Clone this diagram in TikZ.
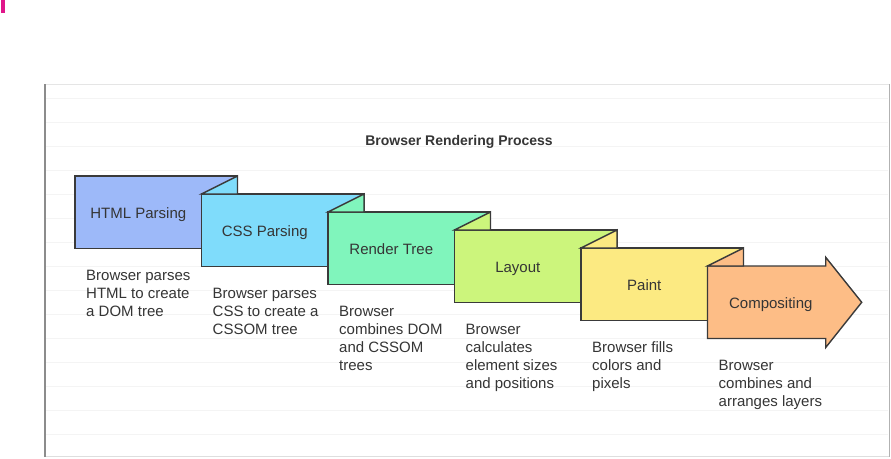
\documentclass[tikz,border=0pt]{standalone}
\usepackage{fontspec}
\setmainfont{Liberation Sans}
\definecolor{cA}{HTML}{9DB9F9}
\definecolor{cB}{HTML}{7FDCFB}
\definecolor{cC}{HTML}{80F5BC}
\definecolor{cD}{HTML}{CCF57C}
\definecolor{cE}{HTML}{FCEA82}
\definecolor{cF}{HTML}{FDBD86}
\definecolor{edgegray}{HTML}{3A3A3A}
\definecolor{txt}{HTML}{353535}
\definecolor{rulegray}{HTML}{F4F4F4}
\definecolor{pinkmark}{HTML}{E0168A}
\begin{document}
\begin{tikzpicture}[x=1pt,y=-1pt,
  stage/.style={draw=edgegray, line width=1.4pt, line join=miter},
  rule/.style={draw=rulegray, line width=1pt},
  lbl/.style={font=\fontsize{15}{18}\selectfont, text=txt, inner sep=0, anchor=base},
  desc/.style={font=\fontsize{15}{18}\selectfont, text=txt, align=left, anchor=north west, inner sep=0},
  ttl/.style={font=\fontsize{14}{17}\selectfont\bfseries, text=txt, inner sep=0, anchor=base}
]
\useasboundingbox (0,0) rectangle (891,458);
\fill[white] (0,0) rectangle (891,458);
\fill[pinkmark] (1,0) rectangle (5,12.5);
% ruled lines
\foreach \k in {0,...,14} \draw[rule] (46,98+24*\k) -- (888,98+24*\k);
% frame
\draw[draw=black!10, line width=1.5pt] (45,84.3) -- (889,84.3);
\draw[draw=black!13, line width=1.2pt] (45,456.5) -- (889,456.5);
\draw[draw=black!30, line width=1.5pt] (889.3,84) -- (889.3,457);
\draw[draw=black!45, line width=2pt] (45,84) -- (45,457);
% title
\node[ttl] (title) at (459,145.5) {Browser Rendering Process};
% stage 1
\filldraw[stage, fill=cA] (75,176) rectangle (237.5,248.5);
% stage 2
\filldraw[stage, fill=cB] (201.5,194) rectangle (364,266.5);
\filldraw[stage, fill=cB] (201.5,194) -- (237.5,176) -- (237.5,194) -- cycle;
% stage 3
\filldraw[stage, fill=cC] (328,212) rectangle (490.5,284.5);
\filldraw[stage, fill=cC] (328,212) -- (364,194) -- (364,212) -- cycle;
% stage 4
\filldraw[stage, fill=cD] (454.5,230) rectangle (617,302.5);
\filldraw[stage, fill=cD] (454.5,230) -- (490.5,212) -- (490.5,230) -- cycle;
% stage 5
\filldraw[stage, fill=cE] (581,248) rectangle (743.5,320.5);
\filldraw[stage, fill=cE] (581,248) -- (617,230) -- (617,248) -- cycle;
% stage 6 (arrow)
\filldraw[stage, fill=cF] (707.5,266) -- (825.7,266) -- (825.7,257.3) -- (861.7,302.3) -- (825.7,347.5) -- (825.7,338.5) -- (707.5,338.5) -- cycle;
\filldraw[stage, fill=cF] (707.5,266) -- (743.5,248) -- (743.5,266) -- cycle;
% labels
\node[lbl] (l1) at (138.3,218) {HTML Parsing};
\node[lbl] (l2) at (264.8,236) {CSS Parsing};
\node[lbl] (l3) at (391.3,254) {Render Tree};
\node[lbl] (l4) at (517.8,272) {Layout};
\node[lbl] (l5) at (644.3,290) {Paint};
\node[lbl] (l6) at (770.8,308) {Compositing};
% descriptions
\node[desc] (d1) at (86,269.6) {Browser parses\\HTML to create\\a DOM tree};
\node[desc] (d2) at (212.5,287.6) {Browser parses\\CSS to create a\\CSSOM tree};
\node[desc] (d3) at (339,305.6) {Browser\\combines DOM\\and CSSOM\\trees};
\node[desc] (d4) at (465.5,323.6) {Browser\\calculates\\element sizes\\and positions};
\node[desc] (d5) at (592,341.6) {Browser fills\\colors and\\pixels};
\node[desc] (d6) at (718.5,359.6) {Browser\\combines and\\arranges layers};
\end{tikzpicture}
\end{document}
